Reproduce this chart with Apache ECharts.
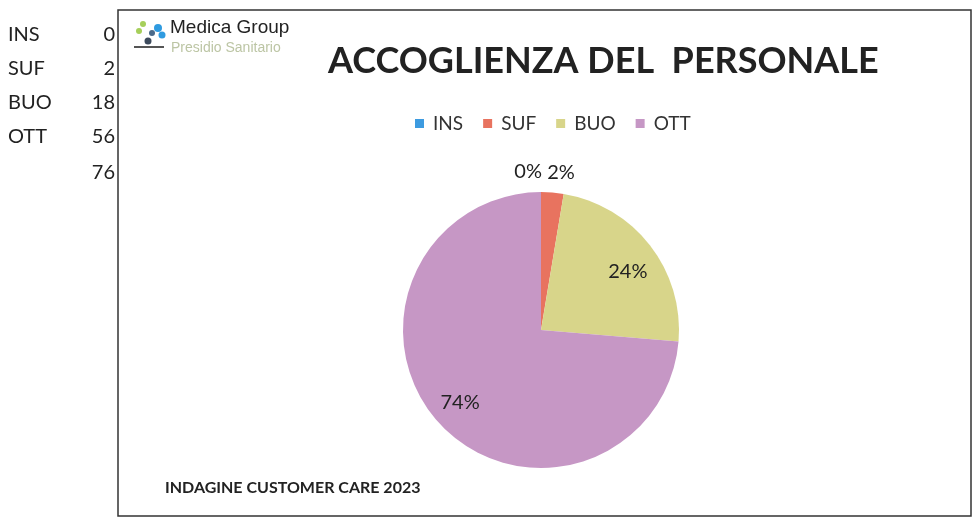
<!DOCTYPE html>
<html>
<head>
<meta charset="utf-8">
<title>ACCOGLIENZA DEL PERSONALE</title>
<script src="https://cdn.jsdelivr.net/npm/echarts@6/dist/echarts.min.js"></script>
<style>
  html, body { margin: 0; padding: 0; background: #fff; }
  #main { width: 976px; height: 520px; }
</style>
</head>
<body>
<div id="main"></div>
<script>
// dati dell'indagine
const categories = ['INS', 'SUF', 'BUO', 'OTT'];
const values = [0, 2, 18, 56];
const total = 76;
const colors = ['#3d9be0', '#e8735f', '#d8d58a', '#c697c5'];

const fontMain = 'Lato, "Open Sans", sans-serif';
const myChart = echarts.init(document.getElementById('main'));

// tabellina a sinistra
const tableTexts = [];
categories.forEach((c, i) => {
  tableTexts.push({ type: 'text', left: 8, top: 25 + i * 34, style: { text: c, font: '20px ' + fontMain, fill: '#222' } });
  tableTexts.push({ type: 'text', right: 976 - 115, top: 25 + i * 34, style: { text: String(values[i]), font: '20px ' + fontMain, fill: '#222', align: 'right' } });
});
tableTexts.push({ type: 'text', right: 976 - 115, top: 163, style: { text: String(total), font: '20px ' + fontMain, fill: '#222', align: 'right' } });

// spostamenti delle etichette come nel foglio originale
const labelOffsets = [[1, 0], [-7, 0], [0, 7], [0, -4]];

const pieData = categories.map((c, i) => ({ name: c, value: values[i], itemStyle: { color: colors[i] } }));
const labelData = categories.map((c, i) => ({
  name: c,
  value: values[i],
  label: values[i] / total < 0.1
    ? { position: 'outside', align: i === 0 ? 'right' : 'left', offset: labelOffsets[i] }
    : { position: 'inside', offset: labelOffsets[i] }
}));

const options = {
  backgroundColor: '#fff',
  animation: false,
  legend: {
    top: 109,
    left: 410,
    data: categories,
    itemWidth: 9,
    itemHeight: 9,
    itemGap: 20,
    icon: 'rect',
    textStyle: { fontFamily: fontMain, fontSize: 19, color: '#333', padding: [0, 0, 0, 4] }
  },
  graphic: [
    // cornice
    { type: 'rect', shape: { x: 118, y: 10, width: 853, height: 506 }, style: { fill: 'none', stroke: '#333', lineWidth: 1.5 } },
    // logo
    { type: 'circle', shape: { cx: 143, cy: 24, r: 3 }, style: { fill: '#a6cf5a' } },
    { type: 'circle', shape: { cx: 139, cy: 31, r: 3 }, style: { fill: '#a6cf5a' } },
    { type: 'circle', shape: { cx: 158, cy: 28, r: 4 }, style: { fill: '#2f9be0' } },
    { type: 'circle', shape: { cx: 162, cy: 35, r: 3.5 }, style: { fill: '#2f9be0' } },
    { type: 'circle', shape: { cx: 152, cy: 33, r: 3 }, style: { fill: '#4b6a8a' } },
    { type: 'circle', shape: { cx: 148, cy: 41, r: 3.5 }, style: { fill: '#3c4a5c' } },
    { type: 'rect', shape: { x: 134, y: 46, width: 30, height: 2 }, style: { fill: '#555' } },
    { type: 'text', left: 170, top: 18, style: { text: 'Medica Group', font: '19px Arial, "Liberation Sans", sans-serif', fill: '#222' } },
    { type: 'text', left: 171, top: 41, style: { text: 'Presidio Sanitario', font: '14px Arial, "Liberation Sans", sans-serif', fill: '#bcc5a4' } },
    // titolo
    { type: 'text', left: 328, top: 43, style: { text: 'ACCOGLIENZA DEL  PERSONALE', font: 'bold 36px ' + fontMain, fill: '#222' } },
    // piede
    { type: 'text', left: 165, top: 480, style: { text: 'INDAGINE CUSTOMER CARE 2023', font: 'bold 16px ' + fontMain, fill: '#222' } }
  ].concat(tableTexts),
  series: [
    {
      type: 'pie',
      center: [541, 330],
      radius: [0, 138],
      startAngle: 90,
      clockwise: true,
      silent: true,
      label: { show: false },
      labelLine: { show: false },
      data: pieData
    },
    {
      // anello trasparente usato solo per posizionare le etichette
      type: 'pie',
      center: [541, 332],
      radius: [76, 138],
      startAngle: 90,
      clockwise: true,
      silent: true,
      legendHoverLink: false,
      avoidLabelOverlap: false,
      percentPrecision: 0,
      itemStyle: { color: 'rgba(0,0,0,0)' },
      label: { show: true, formatter: '{d}%', fontFamily: fontMain, fontSize: 20, color: '#222', distanceToLabelLine: 0 },
      labelLine: { show: false, length: 22, length2: 0 },
      data: labelData
    }
  ]
};

myChart.setOption(options);
window.onresize = () => {
  myChart.resize();
};
</script>
</body>
</html>
